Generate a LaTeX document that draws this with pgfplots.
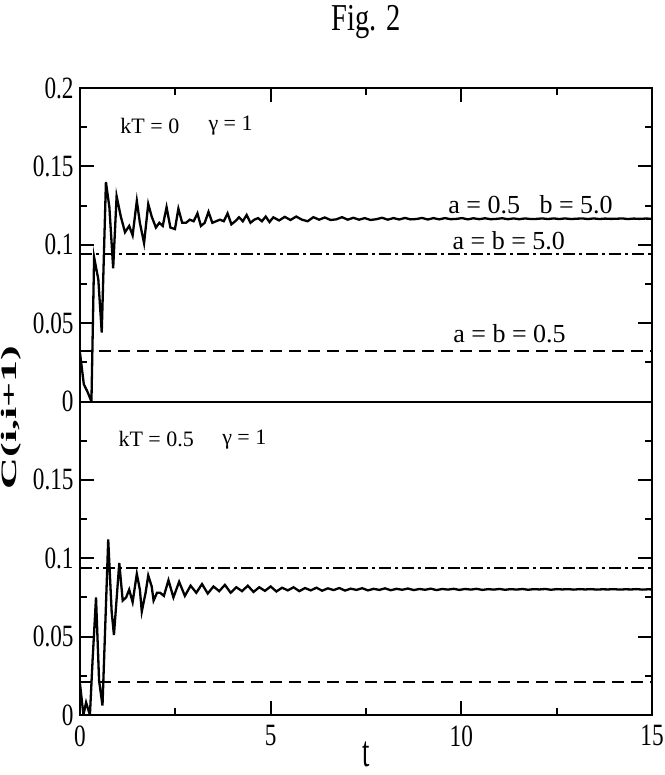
\documentclass[border=0pt]{standalone}
\usepackage{graphicx}
\usepackage{fontspec}
\setmainfont{Liberation Serif}
\newfontfamily\tickfont[FakeStretch=0.75]{Liberation Serif}
\newfontfamily\tfont[FakeStretch=0.6]{Liberation Serif}
\usepackage{pgfplots}
\pgfplotsset{compat=1.18}
\usetikzlibrary{calc}

\pgfplotstableread{
t v
0 0.031
0.1 0.011
0.2 0.006
0.3 0.000
0.37 0.092
0.48 0.078
0.57 0.044
0.68 0.140
0.77 0.124
0.87 0.085
0.96 0.131
1.07 0.118
1.18 0.108
1.29 0.112
1.38 0.106
1.49 0.128
1.57 0.114
1.68 0.101
1.79 0.126
1.88 0.118
1.99 0.111
2.08 0.114
2.17 0.112
2.27 0.124
2.37 0.111
2.49 0.110
2.58 0.123
2.68 0.114
2.78 0.114
2.88 0.116
2.98 0.115
3.08 0.120
3.17 0.112
3.27 0.114
3.37 0.121
3.47 0.114
3.57 0.115
3.67 0.116
3.77 0.115
3.87 0.120
3.97 0.113
4.07 0.115
4.17 0.1175
4.27 0.115
4.37 0.119
4.47 0.114
4.57 0.116
4.67 0.117
4.77 0.115
4.87 0.118
4.97 0.1145
5.07 0.1175
5.22 0.1155
5.37 0.1178
5.52 0.1158
5.67 0.1180
5.82 0.1160
5.97 0.1150
6.12 0.1176
6.27 0.1160
6.42 0.1174
6.57 0.1158
6.72 0.1162
6.87 0.1176
7.02 0.1160
7.17 0.1172
7.32 0.1160
7.47 0.1170
7.62 0.1158
7.77 0.1163
7.92 0.1172
8.07 0.1160
8.22 0.1170
8.37 0.1161
8.52 0.1171
8.67 0.1162
8.82 0.1164
8.97 0.1171
9.12 0.1161
9.27 0.1170
9.42 0.1162
9.57 0.1170
9.72 0.1163
9.87 0.1165
10.02 0.1170
10.17 0.1162
10.32 0.1169
10.47 0.1163
10.62 0.1169
10.77 0.1163
10.92 0.1165
11.07 0.1169
11.22 0.1163
11.37 0.1168
11.52 0.1163
11.67 0.1168
11.82 0.1164
11.97 0.1165
12.12 0.1168
12.27 0.1164
12.42 0.1168
12.57 0.1164
12.72 0.1168
12.87 0.1164
13.02 0.1166
13.17 0.1168
13.32 0.1164
13.47 0.1168
13.62 0.1164
13.77 0.1167
13.92 0.1165
14.07 0.1166
14.22 0.1168
14.37 0.1164
14.52 0.1167
14.67 0.1165
14.82 0.1167
15.0 0.1166
}\topcurve

\pgfplotstableread{
t v
0 0.020
0.09 0.000
0.16 0.008
0.26 0.000
0.33 0.035
0.42 0.075
0.50 0.022
0.59 0.006
0.74 0.112
0.83 0.066
0.89 0.051
1.03 0.097
1.12 0.073
1.21 0.075
1.29 0.080
1.38 0.072
1.49 0.090
1.57 0.080
1.62 0.066
1.72 0.078
1.79 0.089
1.88 0.082
1.93 0.073
2.02 0.078
2.10 0.078
2.20 0.076
2.32 0.086
2.45 0.075
2.60 0.085
2.75 0.076
2.90 0.0825
3.05 0.0780
3.20 0.0835
3.35 0.0775
3.50 0.0820
3.65 0.0790
3.80 0.0830
3.95 0.0780
4.10 0.0815
4.25 0.0790
4.40 0.0825
4.55 0.0785
4.70 0.0815
4.85 0.0792
5.00 0.0820
5.15 0.0788
5.30 0.0812
5.45 0.0795
5.60 0.0815
5.75 0.0790
5.90 0.0810
6.05 0.0795
6.20 0.0812
6.35 0.0793
6.50 0.0808
6.65 0.0797
6.80 0.0810
6.95 0.0794
7.10 0.0806
7.25 0.0798
7.40 0.0809
7.55 0.0795
7.70 0.0805
7.85 0.0798
8.00 0.0808
8.15 0.0796
8.30 0.0805
8.45 0.0799
8.60 0.0807
8.75 0.0797
8.90 0.0804
9.05 0.0799
9.20 0.0806
9.35 0.0797
9.50 0.0804
9.65 0.0800
9.80 0.0805
9.95 0.0798
10.10 0.0804
10.25 0.0800
10.40 0.0805
10.55 0.0798
10.70 0.0803
10.85 0.0800
11.00 0.0804
11.15 0.0799
11.30 0.0803
11.45 0.0800
11.60 0.0804
11.75 0.0799
11.90 0.0803
12.05 0.0801
12.20 0.0804
12.35 0.0799
12.50 0.0803
12.65 0.0801
12.80 0.0803
12.95 0.0800
13.10 0.0803
13.25 0.0801
13.40 0.0803
13.55 0.0800
13.70 0.0802
13.85 0.0801
14.00 0.0803
14.15 0.0800
14.30 0.0802
14.45 0.0801
14.60 0.0803
14.75 0.0800
14.90 0.0802
15.00 0.0801
}\botcurve

\pgfplotsset{
  panel/.style={
    scale only axis, width=286pt, height=156.75pt,
    xmin=0, xmax=15, ymin=0, ymax=0.2,
    axis line style={line width=1pt},
    every tick/.style={line width=1pt, black},
    major tick length=7pt, minor tick length=3.5pt,
    tick align=inside,
    xtick={0,5,10,15}, minor x tick num=1,
    ytick={0,0.05,0.1,0.15,0.2}, minor y tick num=1,
    ytick pos=both, yticklabel pos=left,
    ticklabel style={font=\tickfont\fontsize{15.5}{15.5}\selectfont},
    yticklabel style={inner sep=1pt, xshift=-2pt},
    xticklabel style={inner sep=1pt, yshift=-4pt},
    clip=true,
  },
}
\tikzset{
  dashA/.style={line width=1pt, dash pattern=on 6pt off 3.5pt},
  dashdotA/.style={line width=1pt, dash pattern=on 6pt off 2pt on 1.5pt off 2pt},
  curve/.style={line width=1.15pt, black},
  lab/.style={inner sep=0pt, font=\fontsize{11}{11}\selectfont},
  clab/.style={anchor=base west, inner sep=0pt, font=\fontsize{13}{13}\selectfont},
}

\begin{document}
\begin{tikzpicture}
\begin{axis}[panel, name=top,
  xtick pos=right, xticklabels={},
  yticklabels={0,0.05,0.1,0.15,0.2},
]
\addplot[curve] table[x=t,y=v] {\topcurve};
\addplot[dashdotA] coordinates {(0,0.094) (15,0.094)};
\addplot[dashA] coordinates {(0,0.0325) (15,0.0325)};
\node[lab, anchor=west] at (axis cs:1.05,0.176) {kT = 0};
\node[lab, anchor=west] at (axis cs:3.36,0.176) {γ = 1};
\node[clab] at (axis cs:9.65,0.120) {a = 0.5\ \ \ b = 5.0};
\node[clab] at (axis cs:9.76,0.0972) {a = b = 5.0};
\node[clab] at (axis cs:9.78,0.0378) {a = b = 0.5};
\end{axis}
\begin{axis}[panel, name=bot, at={(top.south west)}, anchor=north west,
  xtick pos=left, xticklabels={0,5,10,15},
  yticklabels={0,0.05,0.1,0.15,{}},
]
\addplot[curve] table[x=t,y=v] {\botcurve};
\addplot[dashdotA] coordinates {(0,0.094) (15,0.094)};
\addplot[dashA] coordinates {(0,0.021) (15,0.021)};
\node[lab, anchor=west] at (axis cs:1.0,0.176) {kT = 0.5};
\node[lab, anchor=west] at (axis cs:3.72,0.176) {γ = 1};
\end{axis}
\node[anchor=base, inner sep=0pt, font=\tickfont\fontsize{19}{19}\selectfont] at ($(top.north)+(0pt,29pt)$) {Fig. 2};
\node[anchor=center, inner sep=0pt, font=\tfont\fontsize{22}{22}\selectfont] at ($(bot.south)+(0pt,-19.5pt)$) {t};
\node[inner sep=0pt] at ($(bot.north west)+(-34.5pt,-8pt)$) {\rotatebox{90}{\scalebox{2}[1]{\bfseries\fontsize{11}{11}\selectfont C(i,i+1)}}};
\pgfresetboundingbox
\path ($(bot.south west)+(-40pt,-30pt)$) rectangle ($(top.north east)+(6pt,44pt)$);
\end{tikzpicture}
\end{document}
